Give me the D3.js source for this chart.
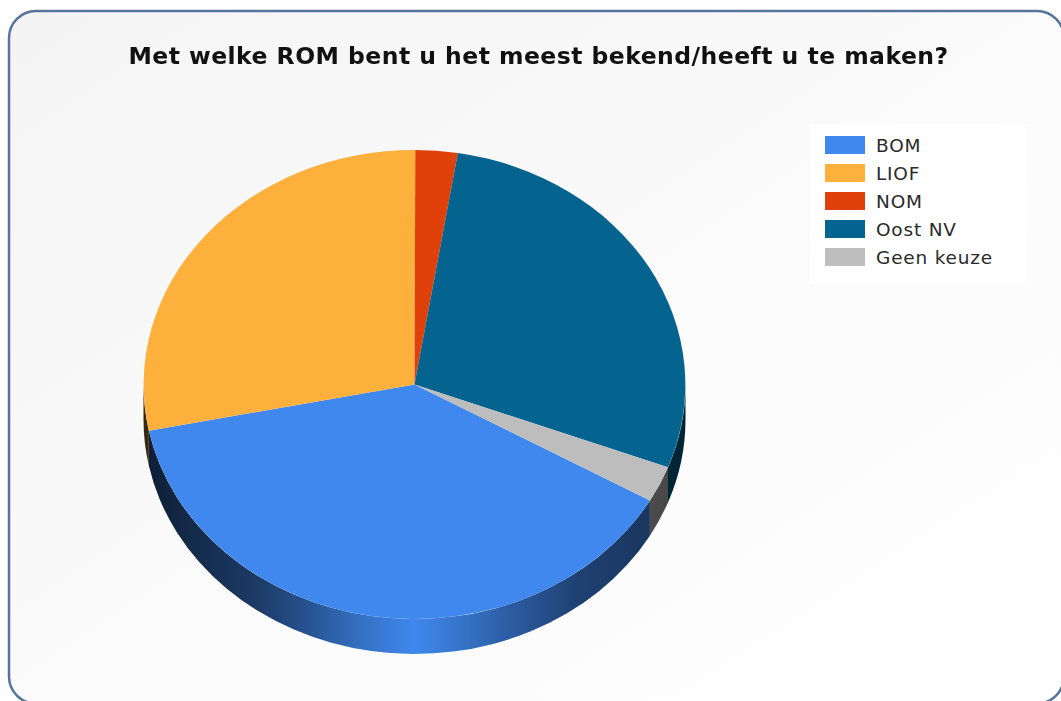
<!DOCTYPE html>
<html><head><meta charset="utf-8">
<script src="https://cdn.jsdelivr.net/npm/d3@7"></script>
<style>html,body{margin:0;padding:0;background:#fff;overflow:hidden}svg{display:block;filter:blur(0.55px)}</style>
</head><body><div id="c"></div>
<script>
const titleText = "Met welke ROM bent u het meest bekend/heeft u te maken?";
const categories = ["BOM","LIOF","NOM","Oost NV","Geen keuze"];
const values = [38.6,28.2,2.5,28.2,2.5];
const colors = ["#4088ee","#fdb03c","#e0400a","#04638f","#bdbdbd"];

const W=1061,H=701,cx=414.5,cy=384.5,rx=271,ry=234.5,depth=35;
const svg=d3.select("#c").append("svg").attr("width",W).attr("height",H);
const defs=svg.append("defs");
const bg=defs.append("linearGradient").attr("id","bg").attr("x1",0).attr("y1",0).attr("x2",1).attr("y2",1);
bg.append("stop").attr("offset",0).attr("stop-color","#f4f4f4");
bg.append("stop").attr("offset",0.55).attr("stop-color","#fbfbfb");
bg.append("stop").attr("offset",1).attr("stop-color","#ffffff");
svg.append("rect").attr("x",9).attr("y",11).attr("width",1055).attr("height",692.5).attr("rx",27)
  .attr("fill","url(#bg)").attr("stroke","#57749c").attr("stroke-width",2.5);

svg.append("text").attr("x",538.5).attr("y",64).attr("text-anchor","middle").attr("letter-spacing",0.46)
  .attr("font-family","'DejaVu Sans'").attr("font-weight","bold").attr("font-size",23.5).attr("fill","#111").text(titleText);

const startA=119.7*Math.PI/180;
const pie=d3.pie().sort(null).startAngle(startA).endAngle(startA+2*Math.PI);
const arcs=pie(values);
const px=a=>cx+rx*Math.sin(a), py=a=>cy-ry*Math.cos(a);

const shade=d3.scaleLinear().domain([0,0.2,0.3,0.4,0.5,0.6,0.7,0.8,1]).range([0.22,0.42,0.6,0.82,1,0.82,0.64,0.48,0.36]);
arcs.forEach((d,i)=>{
  const g=defs.append("linearGradient").attr("id","rim"+i).attr("gradientUnits","userSpaceOnUse")
    .attr("x1",cx-rx).attr("x2",cx+rx).attr("y1",0).attr("y2",0);
  d3.range(0,1.001,0.05).forEach(t=>{
    const c=d3.rgb(colors[i]),k=shade(t);
    g.append("stop").attr("offset",t).attr("stop-color",d3.rgb(c.r*k,c.g*k,c.b*k).formatHex());
  });
});

const rim=svg.append("g");
const lo=Math.PI/2,hi=3*Math.PI/2;
arcs.forEach((d,i)=>{
  [0,2*Math.PI].forEach(off=>{
    const a0=Math.max(d.startAngle-off,lo),a1=Math.min(d.endAngle-off,hi);
    if(a1<=a0) return;
    const large=(a1-a0)>Math.PI?1:0;
    const p=`M${px(a0)},${py(a0)}A${rx},${ry} 0 ${large} 1 ${px(a1)},${py(a1)}`+
      `L${px(a1)},${py(a1)+depth}A${rx},${ry} 0 ${large} 0 ${px(a0)},${py(a0)+depth}Z`;
    rim.append("path").attr("d",p).attr("fill",`url(#rim${i})`);
  });
});

const arcGen=d3.arc().innerRadius(0).outerRadius(1);
svg.append("g").attr("transform",`translate(${cx},${cy}) scale(${rx},${ry})`)
  .selectAll("path").data(arcs).join("path").attr("d",arcGen).attr("fill",(d,i)=>colors[i]);

const leg=svg.append("g");
leg.append("rect").attr("x",810).attr("y",124).attr("width",217).attr("height",160).attr("fill","#fff");
const ly=d3.scalePoint().domain(categories).range([145,257]);
categories.forEach((c,i)=>{
  leg.append("rect").attr("x",825).attr("y",ly(c)-9).attr("width",40).attr("height",18).attr("fill",colors[i]);
  leg.append("text").attr("x",876).attr("y",ly(c)+6.5).attr("font-family","'DejaVu Sans'").attr("font-size",18.5)
    .attr("letter-spacing",0.8).attr("fill","#2a2a2a").text(c);
});
</script></body></html>
